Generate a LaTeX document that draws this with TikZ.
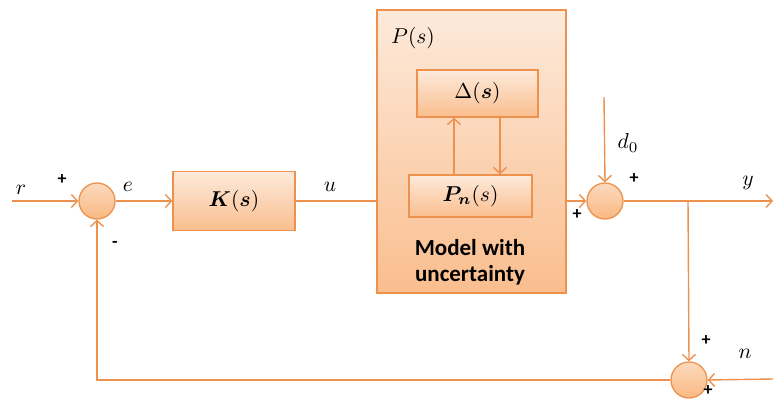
\documentclass[tikz,border=0pt]{standalone}
\usepackage{graphicx}
\usepackage{fontspec}
\usepackage{amsmath}
\usepackage{bm}
\newfontfamily\calib{Carlito}
\usetikzlibrary{arrows.meta,calc}
\newcommand{\mth}[1]{\scalebox{2.15}{$#1$}}
\definecolor{ln}{RGB}{237,145,79}
\definecolor{btop}{RGB}{253,234,219}
\definecolor{bbot}{RGB}{250,190,142}
\definecolor{ctop}{RGB}{252,218,190}
\definecolor{cbot}{RGB}{249,184,130}
\tikzset{
  blk/.style={draw=ln, line width=1.3pt, top color=btop, bottom color=bbot, inner sep=0pt},
  sumj/.style={circle, draw=ln, line width=1.3pt, top color=ctop, bottom color=cbot, minimum size=36pt, inner sep=0pt},
  wire/.style={draw=ln, line width=1.4pt},
  arr/.style={wire, -{Straight Barb[length=6pt,width=13pt,line width=1.4pt]}},
  lbl/.style={inner sep=0pt},
  sgn/.style={inner sep=0pt, font=\calib\bfseries\fontsize{18}{20}\selectfont},
}
\begin{document}
\begin{tikzpicture}[x=1pt,y=-1pt]
\useasboundingbox (0,0) rectangle (773,399);
% blocks
\node[blk, minimum width=189pt, minimum height=283pt] (P) at (471.5,151.5) {};
\node[blk, minimum width=122pt, minimum height=59pt] (K) at (234,201) {\mth{\bm{K}(\bm{s})}};
\node[blk, minimum width=121pt, minimum height=47pt] (D) at (477.5,93.5) {\mth{\Delta(\bm{s})}};
\node[blk, minimum width=123pt, minimum height=42pt] (Pn) at (470.5,196) {\mth{\bm{P_n}(s)}};
\node[inner sep=0pt, align=center, font=\calib\bfseries\fontsize{23}{26}\selectfont] (mt) at (470,262) {Model with\\uncertainty};
\node[lbl] (Ps) at (413,38) {\mth{P(s)}};
% summing junctions
\node[sumj] (s1) at (97,201) {};
\node[sumj] (s2) at (605,201) {};
\node[sumj] (s3) at (689,380) {};
% coordinates
\coordinate (rin) at (12,201);
\coordinate (upx) at (454,0);
\coordinate (dnx) at (500,0);
\coordinate (d0top) at (604,97);
\coordinate (yend) at (773,201);
\coordinate (brx) at (688,0);
\coordinate (nin) at (773,379);
% connectors
\draw[arr] (rin) -- (s1.west);
\draw[arr] (s1.east) -- (K.west);
\draw[wire] (K.east) -- (K.east -| P.west);
\draw[arr] (Pn.north -| upx) -- (D.south -| upx);
\draw[arr] (D.south -| dnx) -- (Pn.north -| dnx);
\draw[arr] (s2.west -| P.east) -- (s2.west);
\draw[arr] (d0top) -- (s2.north);
\draw[arr] (s2.east) -- (yend);
\draw[arr] (s2.east -| brx) -- (s3.north);
\draw[arr] (nin) -- (s3.east);
\draw[arr] (s3.west) -- (s3.west -| s1) -- (s1.south);
% labels
\node[lbl] (lr) at (21,190) {\mth{r}};
\node[sgn] (p1) at (62,180) {+};
\node[lbl] (le) at (128,187) {\mth{e}};
\node[sgn] (m1) at (115,244) {-};
\node[lbl] (lu) at (330,187) {\mth{u}};
\node[lbl] (ld) at (628,143) {\mth{d_0}};
\node[sgn] (p2) at (634,179) {+};
\node[sgn] (p3) at (577,215) {+};
\node[lbl] (ly) at (748,183) {\mth{y}};
\node[sgn] (p4) at (706,341) {+};
\node[lbl] (lnn) at (745,354) {\mth{n}};
\node[sgn] (p5) at (708,391) {+};
\end{tikzpicture}
\end{document}
